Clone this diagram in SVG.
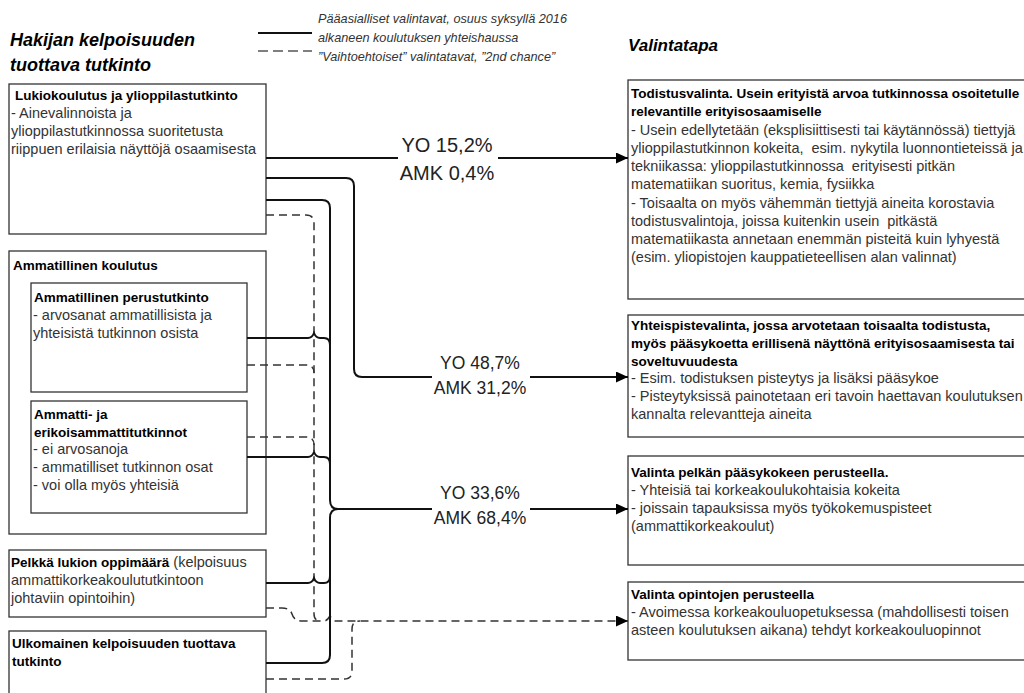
<svg xmlns="http://www.w3.org/2000/svg" width="1024" height="693" viewBox="0 0 1024 693">
<style>
text { font-family: "Liberation Sans", Arial, sans-serif; }
.t { font-size: 14.5px; fill: #333; }
.b { font-size: 13.5px; font-weight: bold; fill: #000; }
.title { font-size: 18px; font-weight: bold; font-style: italic; fill: #000; }
.leg { font-size: 12.7px; font-style: italic; fill: #333; }
.lbl { fill: #222; text-anchor: middle; }
.box { fill: #fff; stroke: #333; stroke-width: 1.3; }
.sol { fill: none; stroke: #111; stroke-width: 2; }
.dsh { fill: none; stroke: #333; stroke-width: 1.5; stroke-dasharray: 8 5; }
.bg { fill: #fff; }
</style>
<defs>
<marker id="arr" markerUnits="userSpaceOnUse" markerWidth="12" markerHeight="11" refX="12" refY="5.5" orient="auto">
<path d="M0,0 L12,5.5 L0,11 z" fill="#000"/>
</marker>
</defs>
<rect width="1024" height="693" fill="#fff"/>

<g id="headers">
<text class="title" x="10" y="46">Hakijan kelpoisuuden</text>
<text class="title" x="10" y="71">tuottava tutkinto</text>
<text class="title" x="628" y="51" style="font-size:17px">Valintatapa</text>
</g>

<g id="legend">
<line x1="258" y1="33" x2="312" y2="33" stroke="#111" stroke-width="2"/>
<line x1="258" y1="51" x2="312" y2="51" stroke="#555" stroke-width="1.5" stroke-dasharray="10 5"/>
<text class="leg" x="318" y="23">Pääasialliset valintavat, osuus syksyllä 2016</text>
<text class="leg" x="318" y="42">alkaneen koulutuksen yhteishaussa</text>
<text class="leg" x="318" y="61">”Vaihtoehtoiset” valintatavat, ”2nd chance”</text>
</g>

<g id="lukio">
<rect class="box" x="9" y="84" width="257" height="150"/>
<text class="b" x="15" y="100">Lukiokoulutus ja ylioppilastutkinto</text>
<text class="t" x="11" y="118">- Ainevalinnoista ja</text>
<text class="t" x="11" y="136">ylioppilastutkinnossa suoritetusta</text>
<text class="t" x="11" y="154">riippuen erilaisia näyttöjä osaamisesta</text>
</g>

<g id="ammatillinen">
<rect class="box" x="9" y="251" width="257" height="283"/>
<text class="b" x="13" y="270">Ammatillinen koulutus</text>
</g>

<g id="perustutkinto">
<rect class="box" x="31" y="283" width="216" height="109"/>
<text class="b" x="34" y="302">Ammatillinen perustutkinto</text>
<text class="t" x="33" y="320">- arvosanat ammatillisista ja</text>
<text class="t" x="33" y="338">yhteisistä tutkinnon osista</text>
</g>

<g id="ammattitutkinnot">
<rect class="box" x="31" y="401" width="216" height="112"/>
<text class="b" x="34" y="419">Ammatti- ja</text>
<text class="b" x="34" y="437">erikoisammattitutkinnot</text>
<text class="t" x="33" y="454">- ei arvosanoja</text>
<text class="t" x="33" y="472">- ammatilliset tutkinnon osat</text>
<text class="t" x="33" y="490">- voi olla myös yhteisiä</text>
</g>

<g id="pelkka-lukio">
<rect class="box" x="9" y="550" width="257" height="67"/>
<text class="t" x="11" y="567"><tspan font-size="13.5px" font-weight="bold" fill="#000">Pelkkä lukion oppimäärä</tspan> (kelpoisuus</text>
<text class="t" x="11" y="585">ammattikorkeakoulututkintoon</text>
<text class="t" x="11" y="603">johtaviin opintoihin)</text>
</g>

<g id="ulkomainen">
<rect class="box" x="9" y="631" width="257" height="75"/>
<text class="b" x="12" y="648">Ulkomainen kelpoisuuden tuottava</text>
<text class="b" x="12" y="666">tutkinto</text>
</g>

<g id="todistusvalinta">
<rect class="box" x="628" y="80" width="410" height="219"/>
<text class="b" x="631" y="98">Todistusvalinta. Usein erityistä arvoa tutkinnossa osoitetulle</text>
<text class="b" x="631" y="116">relevantille erityisosaamiselle</text>
<text class="t" x="631" y="135">- Usein edellytetään (eksplisiittisesti tai käytännössä) tiettyjä</text>
<text class="t" x="631" y="153" xml:space="preserve">ylioppilastutkinnon kokeita,  esim. nykytila luonnontieteissä ja</text>
<text class="t" x="631" y="171" xml:space="preserve">tekniikassa: ylioppilastutkinnossa  erityisesti pitkän</text>
<text class="t" x="631" y="189">matematiikan suoritus, kemia, fysiikka</text>
<text class="t" x="631" y="208">- Toisaalta on myös vähemmän tiettyjä aineita korostavia</text>
<text class="t" x="631" y="226" xml:space="preserve">todistusvalintoja, joissa kuitenkin usein  pitkästä</text>
<text class="t" x="631" y="244">matematiikasta annetaan enemmän pisteitä kuin lyhyestä</text>
<text class="t" x="631" y="262">(esim. yliopistojen kauppatieteellisen alan valinnat)</text>
</g>

<g id="yhteispistevalinta">
<rect class="box" x="628" y="315" width="410" height="122"/>
<text class="b" x="631" y="330">Yhteispistevalinta, jossa arvotetaan toisaalta todistusta,</text>
<text class="b" x="631" y="348">myös pääsykoetta erillisenä näyttönä erityisosaamisesta tai</text>
<text class="b" x="631" y="366">soveltuvuudesta</text>
<text class="t" x="631" y="383">- Esim. todistuksen pisteytys ja lisäksi pääsykoe</text>
<text class="t" x="631" y="401">- Pisteytyksissä painotetaan eri tavoin haettavan koulutuksen</text>
<text class="t" x="631" y="419">kannalta relevantteja aineita</text>
</g>

<g id="paasykoe">
<rect class="box" x="628" y="456" width="410" height="109"/>
<text class="b" x="631" y="477">Valinta pelkän pääsykokeen perusteella.</text>
<text class="t" x="631" y="495">- Yhteisiä tai korkeakoulukohtaisia kokeita</text>
<text class="t" x="631" y="513">- joissain tapauksissa myös työkokemuspisteet</text>
<text class="t" x="631" y="531">(ammattikorkeakoulut)</text>
</g>

<g id="opinnot">
<rect class="box" x="628" y="582" width="410" height="78"/>
<text class="b" x="631" y="599">Valinta opintojen perusteella</text>
<text class="t" x="631" y="617">- Avoimessa korkeakouluopetuksessa (mahdollisesti toisen</text>
<text class="t" x="631" y="635">asteen koulutuksen aikana) tehdyt korkeakouluopinnot</text>
</g>

<g id="connectors">
<path class="dsh" d="M266,215 H306 Q314,215 314,223 V614 Q314,621 321,621"/>
<path class="dsh" d="M247,365 H306 Q314,365 314,373"/>
<path class="dsh" d="M247,437 H306 Q314,437 314,445"/>
<path class="dsh" d="M266,608 H282 Q290,608 292,614 Q294,621 302,621 H324 Q327,621 330,616 Q333,621 336,621 H628" marker-end="url(#arr)"/>
<path class="dsh" d="M266,679 H344 Q352,679 352,671 V629 Q352,621 360,621"/>
<path class="sol" d="M266,158 H628" marker-end="url(#arr)"/>
<path class="sol" d="M266,178 H346 Q354,178 354,186 V369 Q354,377 362,377 H628" marker-end="url(#arr)"/>
<path class="sol" d="M266,200 H322 Q330,200 330,208 V500 Q330,509 338,509 H628" marker-end="url(#arr)"/>
<path class="sol" d="M266,663 H322 Q330,663 330,655 V518 Q330,509 338,509"/>
<path class="sol" d="M247,338 H308 Q312,338 314,333 Q316,338 320,338 H324 Q330,338 330,345"/>
<path class="sol" d="M247,457 H308 Q312,457 314,452 Q316,457 320,457 H324 Q330,457 330,464"/>
<path class="sol" d="M266,583 H308 Q312,583 314,578 Q316,583 320,583 H324 Q330,583 330,576"/>
<rect class="bg" x="398" y="132" width="100" height="54"/>
<text class="lbl" x="447" y="152" font-size="20px">YO 15,2%</text>
<text class="lbl" x="447" y="180" font-size="20px">AMK 0,4%</text>
<rect class="bg" x="432" y="352" width="98" height="48"/>
<text class="lbl" x="480" y="369" font-size="17.5px">YO 48,7%</text>
<text class="lbl" x="480" y="394" font-size="17.5px">AMK 31,2%</text>
<rect class="bg" x="432" y="482" width="98" height="48"/>
<text class="lbl" x="480" y="499" font-size="17.5px">YO 33,6%</text>
<text class="lbl" x="480" y="524" font-size="17.5px">AMK 68,4%</text>
</g>
</svg>
